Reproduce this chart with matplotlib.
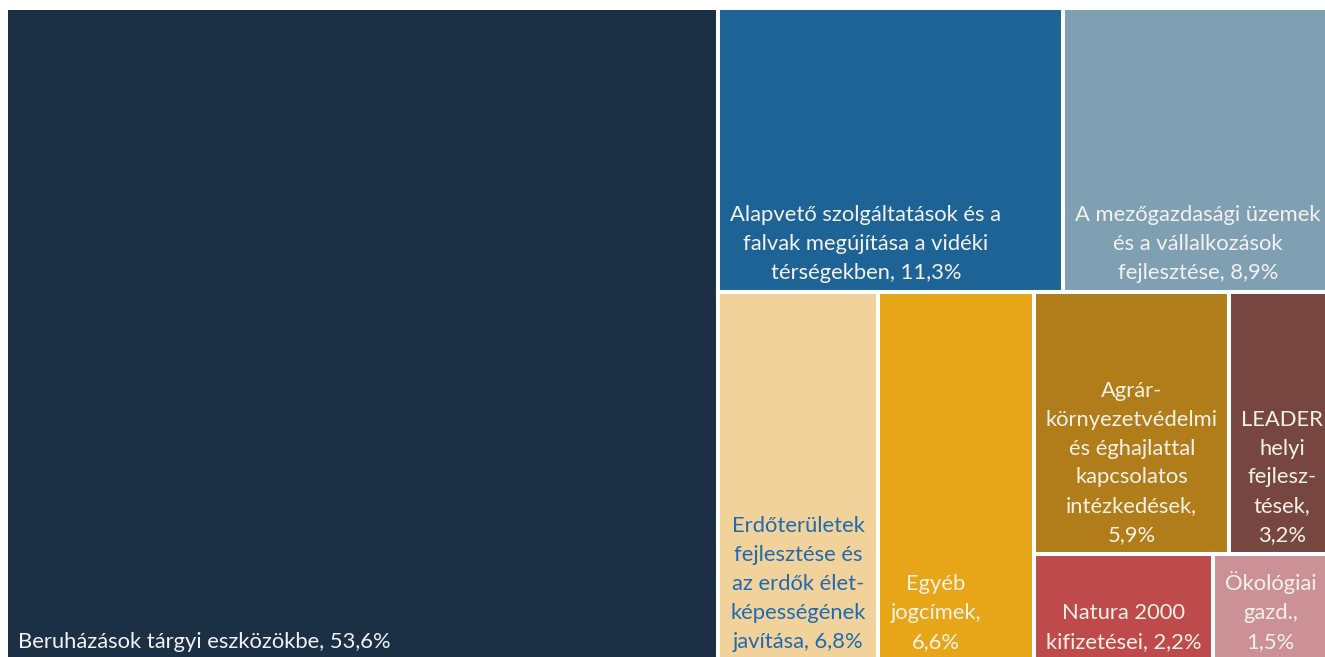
import matplotlib
matplotlib.use("Agg")
import matplotlib.pyplot as plt
from matplotlib.patches import Rectangle

labels = [
    "Beruházások tárgyi eszközökbe, 53,6%",
    "Alapvető szolgáltatások és a\nfalvak megújítása a vidéki\ntérségekben, 11,3%",
    "A mezőgazdasági üzemek\nés a vállalkozások\nfejlesztése, 8,9%",
    "Erdőterületek\nfejlesztése és\naz erdők élet-\nképességének\njavítása, 6,8%",
    "Egyéb\njogcímek,\n6,6%",
    "Agrár-\nkörnyezetvédelmi\nés éghajlattal\nkapcsolatos\nintézkedések,\n5,9%",
    "LEADER\nhelyi\nfejlesz-\ntések,\n3,2%",
    "Natura 2000\nkifizetései, 2,2%",
    "Ökológiai\ngazd.,\n1,5%",
]
values = [53.6, 11.3, 8.9, 6.8, 6.6, 5.9, 3.2, 2.2, 1.5]
colors = ["#1b2f45", "#1e6395", "#7f9fb3", "#f2d29b", "#e6a617",
          "#b07d1a", "#774640", "#bf4a4c", "#cc9196"]
text_colors = ["#f2f2f2", "#f2f2f2", "#f2f2f2", "#1f6ab0", "#f7f2e6",
               "#f7f2e6", "#f7f2e6", "#f7f2e6", "#f7f2e6"]

# layout structure: big | top row [1,2] / bottom row [3, 4, block(rows [5,6] / [7,8])]
W, H = 1.0, 1.0
total = sum(values)
rects = {}
bw = values[0] / total * W
rects[0] = (0, 0, bw, H)
rest = total - values[0]
rw = W - bw
top = values[1] + values[2]
th = top / rest * H
x = bw
for i in (1, 2):
    w = values[i] / top * rw
    rects[i] = (x, 0, w, th)
    x += w
bot = rest - top
bh = H - th
x = bw
for i in (3, 4):
    w = values[i] / bot * rw
    rects[i] = (x, th, w, bh)
    x += w
block = [[5, 6], [7, 8]]
bs = sum(values[i] for r in block for i in r)
blw = bs / bot * rw
y = th
for r in block:
    rs = sum(values[i] for i in r)
    h = rs / bs * bh
    xx = x
    for i in r:
        w = values[i] / rs * blw
        rects[i] = (xx, y, w, h)
        xx += w
    y += h

fig = plt.figure(figsize=(13.25, 6.57), dpi=100)
FW, FH = 1325, 657
ax_l, ax_r, ax_t, ax_b = 6, 1335, 8, 661
ax = fig.add_axes([ax_l / FW, (FH - ax_b) / FH, (ax_r - ax_l) / FW, (ax_b - ax_t) / FH])
ax.set_xlim(0, W)
ax.set_ylim(H, 0)
ax.axis("off")

font = ["Lato", "DejaVu Sans"]
for i, (x0, y0, w, h) in rects.items():
    ax.add_patch(Rectangle((x0, y0), w, h, facecolor=colors[i], edgecolor="white",
                           linewidth=2.9, clip_on=False))
    ax.annotate(labels[i], xy=(x0, y0 + h), xytext=(12, 9), textcoords="offset pixels",
                ha="left", va="bottom", multialignment="left" if i == 0 else "center",
                color=text_colors[i], fontsize=15.8, family=font, linespacing=1.56,
                annotation_clip=False)

fig.savefig("out.png", dpi=100)
